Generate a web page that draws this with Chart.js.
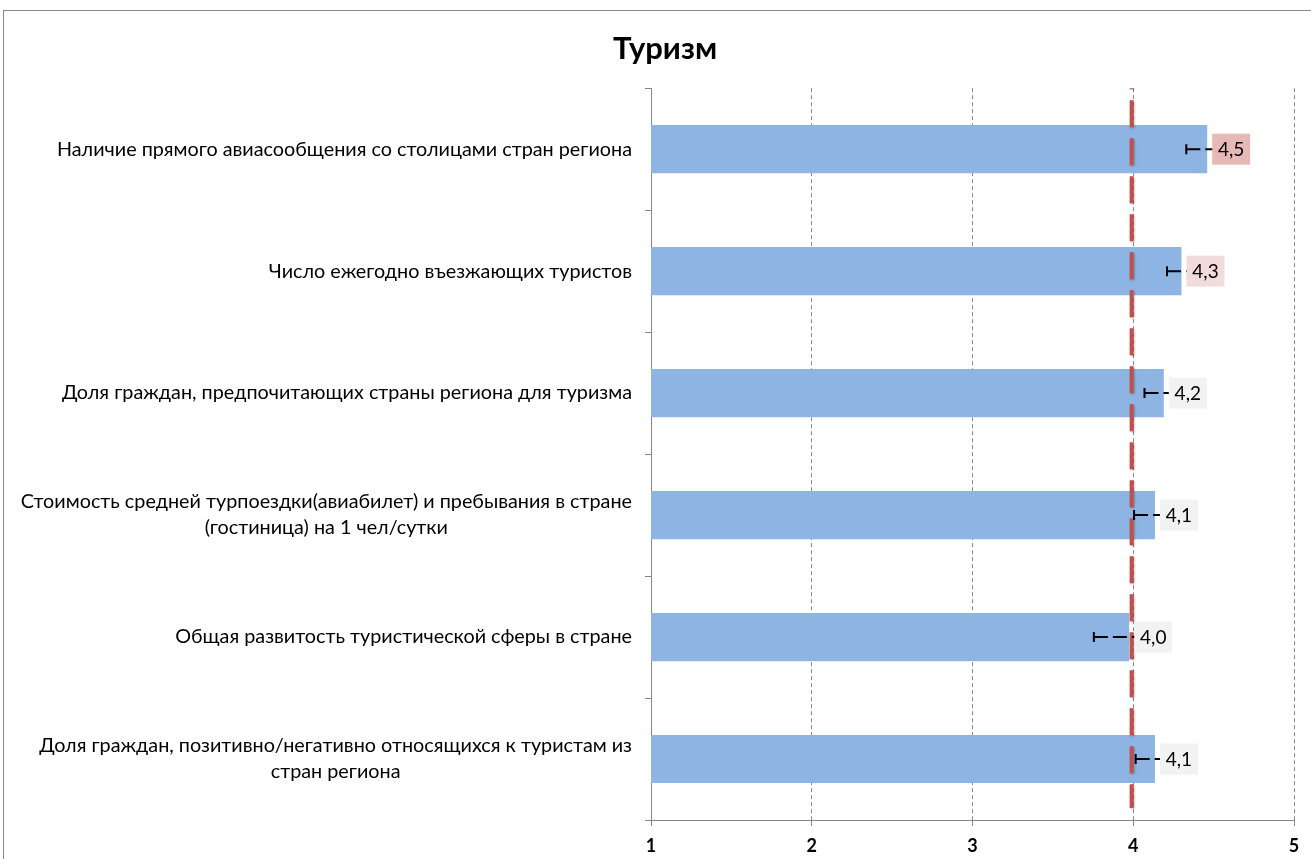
<!DOCTYPE html>
<html lang="ru">
<head>
<meta charset="utf-8">
<title>Туризм</title>
<script src="https://cdn.jsdelivr.net/npm/chart.js@4.4.1/dist/chart.umd.min.js"></script>
<style>
  html, body { margin: 0; padding: 0; background: #fff; overflow: hidden; }
  #frame {
    position: absolute; left: 3px; top: 10px;
    width: 1400px; height: 1000px;
    border: 1px solid #868686;
  }
  #wrap { position: absolute; left: 0; top: 0; width: 1311px; height: 859px; }
</style>
</head>
<body>
<div id="frame"></div>
<div id="wrap"><canvas id="chart"></canvas></div>
<script>
// Chart data
const categories = [
  ['Наличие прямого авиасообщения со столицами стран региона'],
  ['Число ежегодно въезжающих туристов'],
  ['Доля граждан, предпочитающих страны региона для туризма'],
  ['Стоимость средней турпоездки(авиабилет) и пребывания в стране', '(гостиница) на 1 чел/сутки'],
  ['Общая развитость туристической сферы в стране'],
  ['Доля граждан, позитивно/негативно относящихся к туристам из', 'стран региона']
];
const scores = [4.46, 4.30, 4.19, 4.135, 3.975, 4.135];
const errors = [0.13, 0.09, 0.12, 0.13, 0.22, 0.12];
const meanScore = 3.99;
const xTickValues = [1, 2, 3, 4, 5];

// label box colours per bar
const labelColors = ['#E6B9B8', '#F2DCDB', '#F2F2F2', '#F2F2F2', '#F2F2F2', '#F2F2F2'];

const FONT = 'Lato, "Liberation Sans", sans-serif';

/**
 * Draws the category names to the left of the plot,
 * right-aligned as a block, multi-line names centred inside the block.
 */
const categoryLabels = {
  id: 'categoryLabels',
  afterDraw(chart) {
    const { ctx } = chart;
    const y = chart.scales.y;
    const right = chart.chartArea.left - 19;
    const lh = 26;
    ctx.save();
    ctx.font = '19.8px ' + FONT;
    ctx.fillStyle = '#000';
    ctx.textBaseline = 'middle';
    ctx.textAlign = 'center';
    categories.forEach((lines, i) => {
      const cy = y.getPixelForValue(i);
      const w = Math.max(...lines.map(l => ctx.measureText(l).width));
      const cx = right - w / 2;
      const top = cy - (lines.length - 1) * lh / 2;
      lines.forEach((l, k) => ctx.fillText(l, cx, top + k * lh));
    });
    ctx.restore();
  }
};

/**
 * Mean line, error bars and value labels drawn over the bars.
 */
const overlays = {
  id: 'overlays',
  afterDatasetsDraw(chart) {
    const { ctx, chartArea } = chart;
    const x = chart.scales.x;
    const meta = chart.getDatasetMeta(0);

    // red dashed mean line
    const mx = x.getPixelForValue(meanScore);
    ctx.save();
    ctx.strokeStyle = '#C0504D';
    ctx.lineWidth = 4;
    ctx.setLineDash([27, 11]);
    ctx.lineDashOffset = -12;
    ctx.shadowColor = 'rgba(0,0,0,0.25)';
    ctx.shadowBlur = 2;
    ctx.shadowOffsetX = 1;
    ctx.shadowOffsetY = 1;
    ctx.beginPath();
    ctx.moveTo(mx, chartArea.top);
    ctx.lineTo(mx, chartArea.bottom - 12);
    ctx.stroke();
    ctx.restore();

    // error bars
    ctx.save();
    ctx.strokeStyle = '#000';
    ctx.lineWidth = 2;
    meta.data.forEach((bar, i) => {
      const cy = bar.y;
      const lo = x.getPixelForValue(scores[i] - errors[i]);
      const hi = x.getPixelForValue(scores[i] + errors[i]);
      ctx.setLineDash([14, 5]);
      ctx.beginPath();
      ctx.moveTo(lo, cy);
      ctx.lineTo(hi, cy);
      ctx.stroke();
      ctx.setLineDash([]);
      ctx.beginPath();
      ctx.moveTo(lo, cy - 5);
      ctx.lineTo(lo, cy + 5);
      ctx.moveTo(hi, cy - 5);
      ctx.lineTo(hi, cy + 5);
      ctx.stroke();
    });
    ctx.restore();

    // value labels with coloured boxes
    ctx.save();
    ctx.font = '19px ' + FONT;
    ctx.textBaseline = 'middle';
    ctx.textAlign = 'center';
    meta.data.forEach((bar, i) => {
      const txt = scores[i].toFixed(1).replace('.', ',');
      const bx = bar.x + 5;
      const bw = 38, bh = 31;
      ctx.fillStyle = labelColors[i];
      ctx.fillRect(bx, bar.y - bh / 2, bw, bh);
      ctx.fillStyle = '#000';
      ctx.fillText(txt, bx + bw / 2, bar.y + 1);
    });
    ctx.restore();
  }
};

document.addEventListener('DOMContentLoaded', () => {
  const ctx = document.getElementById('chart').getContext('2d');
  new Chart(ctx, {
    type: 'bar',
    data: {
      labels: categories,
      datasets: [{
        data: scores,
        backgroundColor: '#8EB4E3',
        borderWidth: 0,
        categoryPercentage: 1,
        barPercentage: 0.395
      }]
    },
    options: {
      indexAxis: 'y',
      responsive: true,
      maintainAspectRatio: false,
      animation: false,
      layout: { padding: { left: 36, right: 17, top: 3, bottom: 3 } },
      plugins: {
        legend: { display: false },
        tooltip: { enabled: false },
        title: {
          display: true,
          text: 'Туризм',
          color: '#000',
          font: { family: FONT, size: 31, weight: 'bold' },
          padding: { top: 27, bottom: 21 }
        }
      },
      scales: {
        x: {
          type: 'linear',
          min: xTickValues[0],
          max: xTickValues[xTickValues.length - 1],
          afterBuildTicks: scale => { scale.ticks = xTickValues.map(v => ({ value: v })); },
          afterFit: scale => { scale.height = 36; },
          ticks: {
            color: '#000',
            font: { family: FONT, size: 18, weight: 'bold' },
            padding: 9
          },
          grid: {
            color: '#868686',
            lineWidth: 1,
            drawTicks: true,
            tickLength: 6,
            tickBorderDash: []
          },
          border: { display: true, color: '#868686', dash: [4, 3] }
        },
        y: {
          type: 'category',
          offset: true,
          afterFit: scale => { scale.width = 615; },
          ticks: { display: false },
          grid: {
            offset: true,
            drawOnChartArea: false,
            drawTicks: true,
            tickLength: 6,
            color: '#868686'
          },
          border: { display: true, color: '#868686' }
        }
      }
    },
    plugins: [categoryLabels, overlays]
  });
});
</script>
</body>
</html>
